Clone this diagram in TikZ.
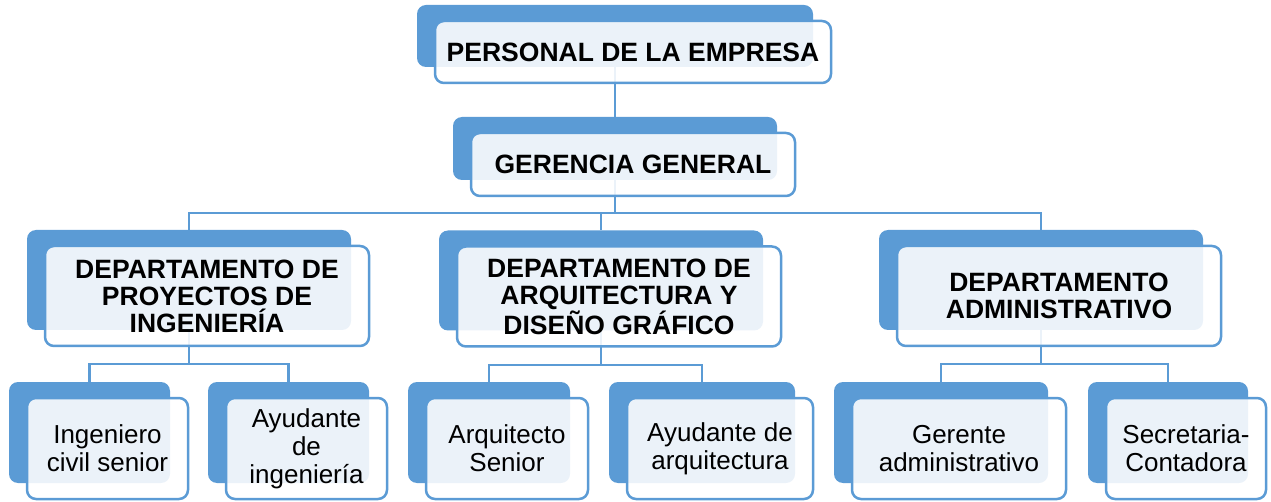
\documentclass[tikz,border=0pt]{standalone}
\usepackage{fontspec}
\setmainfont{Liberation Sans}
\usetikzlibrary{positioning}
\definecolor{orgBlue}{RGB}{91,155,213}
\tikzset{
  backBox/.style={rectangle, rounded corners=9pt, fill=orgBlue, inner sep=0pt},
  frontBox/.style={rectangle, rounded corners=9pt, draw=orgBlue, line width=2.5pt,
    fill=white, fill opacity=0.88, text opacity=1, inner sep=0pt, align=center},
  headText/.style={font=\fontsize{26.5}{27}\selectfont\bfseries},
  leafText/.style={font=\fontsize{26}{28}\selectfont},
  link/.style={draw=orgBlue, line width=2.2pt}
}

\begin{document}
\begin{tikzpicture}[x=1pt, y=-1pt]
  \useasboundingbox (0,0) rectangle (1271,502);
  % back boxes
  \foreach \n/\x/\y/\w/\h in {top/615/36/396/62, ger/615/148.5/324/63,
      d1/189/280/324/100, d2/601/280.5/324/100, d3/1041/280/324/100,
      l1/89.5/432.5/161/101, l2/288.5/432.5/161/101, l3/489/432.5/162/101,
      l4/702/432.5/186/101, l5/941/432.5/214/101, l6/1168/432.5/160/101}
    \node [backBox, minimum width=\w pt, minimum height=\h pt] (\n) at (\x,\y) {};

  % connectors
  \draw [link] (top.south) -- (ger.north);
  \coordinate [below=33pt of ger.south] (gerFork);
  \draw [link] (ger.south) -- (gerFork) -| (d1.north);
  \draw [link] (gerFork) -| (d2.north);
  \draw [link] (gerFork) -| (d3.north);
  \foreach \d/\a/\b in {d1/l1/l2, d2/l3/l4, d3/l5/l6} {
    \coordinate [below=34pt of \d.south] (\d-fork);
    \draw [link] (\d.south) -- (\d-fork) -| (\a.north);
    \draw [link] (\d-fork) -| (\b.north);
  }

  % front boxes
  \foreach \n/\w/\h/\t in {top/396/62/{PERSONAL DE LA EMPRESA},
      ger/324/63/{GERENCIA GENERAL},
      d1/324/100/{DEPARTAMENTO DE\\PROYECTOS DE\\INGENIERÍA},
      d2/324/100/{DEPARTAMENTO DE\\ARQUITECTURA Y\\DISEÑO GRÁFICO},
      d3/324/100/{DEPARTAMENTO\\ADMINISTRATIVO}}
    \node [frontBox, headText, minimum width=\w pt, minimum height=\h pt]
      (f\n) at ([shift={(18,16)}]\n.center) {\t};
  \foreach \n/\w/\t in {l1/161/{Ingeniero\\civil senior}, l2/161/{Ayudante\\de\\ingeniería},
      l3/162/{Arquitecto\\Senior}, l4/186/{Ayudante de\\arquitectura},
      l5/214/{Gerente\\administrativo}, l6/160/{Secretaria-\\Contadora}}
    \node [frontBox, leafText, minimum width=\w pt, minimum height=101pt]
      (f\n) at ([shift={(18,16)}]\n.center) {\t};
\end{tikzpicture}
\end{document}
